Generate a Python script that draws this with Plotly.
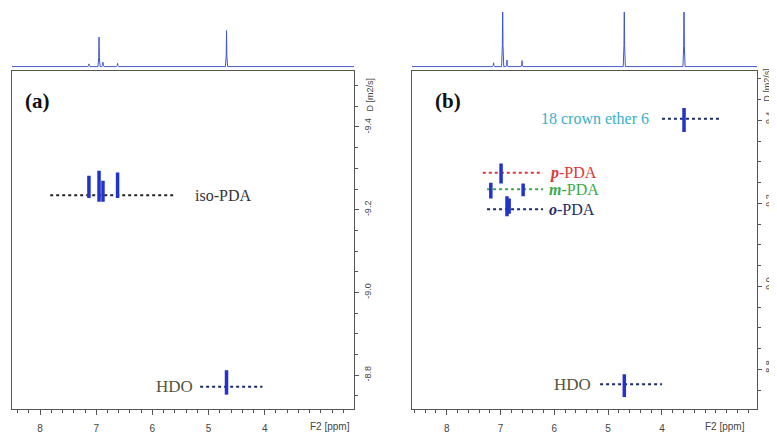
import plotly.graph_objects as go

W, H = 777, 434
OFF = 8  # page body margin of the browser
FW, FH = W - OFF, H - OFF

# ---------------- data ----------------
# panel (a): iso-PDA in D2O
a_iso_ppm = [7.13, 6.95, 6.88, 6.62]
a_iso_d_top = [-9.282, -9.294, -9.270, -9.290]
a_iso_d_bot = [-9.228, -9.219, -9.219, -9.228]
a_iso_line_d = -9.235
a_iso_line_ppm = [7.82, 5.59]

a_hdo_ppm = [4.68]
a_hdo_d_top = [-8.812]
a_hdo_d_bot = [-8.753]
a_hdo_line_d = -8.772
a_hdo_line_ppm = [5.15, 4.04]

a_proj_ppm = [7.13, 6.95, 6.88, 6.62, 4.68]
a_proj_h = [0.05, 0.54, 0.08, 0.06, 0.66]

# panel (b): mixture with 18-crown-6
b_crown_ppm = [3.59]
b_crown_d_top = [-9.430]
b_crown_d_bot = [-9.372]
b_crown_line_d = -9.404
b_crown_line_ppm = [4.00, 2.92]

b_p_ppm = [6.99]
b_p_d_top = [-9.296]
b_p_d_bot = [-9.248]
b_p_line_d = -9.274
b_p_line_ppm = [7.33, 6.21]

b_m_ppm = [7.18, 6.58]
b_m_d_top = [-9.250, -9.248]
b_m_d_bot = [-9.212, -9.217]
b_m_line_d = -9.234
b_m_line_ppm = [7.25, 6.21]

b_o_ppm = [6.88, 6.84]
b_o_d_top = [-9.217, -9.212]
b_o_d_bot = [-9.169, -9.175]
b_o_line_d = -9.186
b_o_line_ppm = [7.25, 6.21]

b_hdo_ppm = [4.70]
b_hdo_d_top = [-8.788]
b_hdo_d_bot = [-8.733]
b_hdo_line_d = -8.764
b_hdo_line_ppm = [5.15, 4.00]

b_proj_ppm = [7.13, 6.96, 6.88, 6.60, 4.70, 3.59]
b_proj_h = [0.07, 1.30, 0.12, 0.11, 1.30, 1.30]

d_ticks = [-9.4, -9.2, -9.0, -8.8]
d_tick_text = ["-9.4", "-9.2", "-9.0", "-8.8"]
ppm_ticks = [8, 7, 6, 5, 4]

# ---------------- style ----------------
CONT = "#2233cc"
SPEC = "#3f55d0"
FRAME = "#555555"
SERIF = "Liberation Serif"
SANS = "Liberation Sans"


def PX(px):
    return (px - OFF) / FW


def PY(py):
    return 1 - (py - OFF) / FH


def peaks_xy(ppm, top, bot):
    xs, ys = [], []
    for p, t, b in zip(ppm, top, bot):
        xs += [p, p, None]
        ys += [t, b, None]
    return xs, ys


def proj_xy(ppm, h, hi, lo, w=0.02):
    xs, ys = [hi], [0]
    for p, hh in sorted(zip(ppm, h), reverse=True):
        xs += [p + w, p + w * 0.3, p, p - w * 0.3, p - w]
        ys += [0, hh * 0.3, hh, hh * 0.3, 0]
    xs.append(lo)
    ys.append(0)
    return xs, ys


fig = go.Figure()

# ---- panel (a) ----
x, y = proj_xy(a_proj_ppm, a_proj_h, 8.5, 2.41)
fig.add_trace(go.Scatter(x=x, y=y, mode="lines", line=dict(color=SPEC, width=1),
                         xaxis="x2", yaxis="y2", hoverinfo="skip"))
fig.add_trace(go.Scatter(x=a_iso_line_ppm, y=[a_iso_line_d] * 2, mode="lines",
                         line=dict(color="#222222", width=2, dash="dot"), xaxis="x", yaxis="y"))
fig.add_trace(go.Scatter(x=a_hdo_line_ppm, y=[a_hdo_line_d] * 2, mode="lines",
                         line=dict(color="#1a2a6a", width=2, dash="dot"), xaxis="x", yaxis="y"))
x, y = peaks_xy(a_iso_ppm, a_iso_d_top, a_iso_d_bot)
fig.add_trace(go.Scatter(x=x, y=y, mode="lines", line=dict(color=CONT, width=3.5),
                         xaxis="x", yaxis="y"))
x, y = peaks_xy(a_hdo_ppm, a_hdo_d_top, a_hdo_d_bot)
fig.add_trace(go.Scatter(x=x, y=y, mode="lines", line=dict(color=CONT, width=3.5),
                         xaxis="x", yaxis="y"))

# ---- panel (b) ----
x, y = proj_xy(b_proj_ppm, b_proj_h, 8.645, 2.234)
fig.add_trace(go.Scatter(x=x, y=y, mode="lines", line=dict(color=SPEC, width=1),
                         xaxis="x4", yaxis="y4", hoverinfo="skip"))
for lp, ld, col in [(b_crown_line_ppm, b_crown_line_d, "#1a2a6a"),
                    (b_p_line_ppm, b_p_line_d, "#e03535"),
                    (b_m_line_ppm, b_m_line_d, "#3aaa45"),
                    (b_o_line_ppm, b_o_line_d, "#1a2a6a"),
                    (b_hdo_line_ppm, b_hdo_line_d, "#1a2a6a")]:
    fig.add_trace(go.Scatter(x=lp, y=[ld] * 2, mode="lines",
                             line=dict(color=col, width=2, dash="dot"), xaxis="x3", yaxis="y3"))
for pp, tt, bb in [(b_crown_ppm, b_crown_d_top, b_crown_d_bot),
                   (b_p_ppm, b_p_d_top, b_p_d_bot),
                   (b_m_ppm, b_m_d_top, b_m_d_bot),
                   (b_o_ppm, b_o_d_top, b_o_d_bot),
                   (b_hdo_ppm, b_hdo_d_top, b_hdo_d_bot)]:
    x, y = peaks_xy(pp, tt, bb)
    fig.add_trace(go.Scatter(x=x, y=y, mode="lines", line=dict(color=CONT, width=3.5),
                             xaxis="x3", yaxis="y3"))

# ---- axes ----
ytop = PY(71)
ybot = PY(411)
sp_bot = PY(68)
sp_top = PY(12)
axl = [PX(12), PX(354)]
axr = [PX(412), PX(757)]


def main_x(dom, rng, anchor):
    return dict(domain=dom, range=rng, anchor=anchor, showline=True, mirror=True,
                linecolor=FRAME, linewidth=1, ticks="outside", ticklen=5, tickcolor=FRAME,
                tickvals=ppm_ticks, showgrid=False, zeroline=False, ticklabelstandoff=5,
                tickfont=dict(family=SANS, size=10, color="#444444"),
                minor=dict(dtick=0.2, ticklen=3, tickcolor=FRAME, ticks="outside"))


def main_y(anchor, rng, standoff):
    return dict(domain=[ybot, ytop], range=rng, anchor=anchor, side="right",
                showline=True, mirror=True, linecolor=FRAME, linewidth=1,
                ticks="outside", ticklen=4, tickcolor=FRAME, tickvals=d_ticks,
                ticktext=d_tick_text, tickangle=-90, showgrid=False, zeroline=False,
                ticklabelstandoff=standoff,
                tickfont=dict(family=SANS, size=9, color="#444444"),
                minor=dict(dtick=0.05, tick0=-9.4, ticklen=3, tickcolor=FRAME, ticks="outside"))


fig.update_layout(
    width=FW, height=FH, margin=dict(l=0, r=0, t=0, b=0),
    paper_bgcolor="white", plot_bgcolor="white", showlegend=False,
    xaxis=main_x(axl, [8.5, 2.41], "y"),
    yaxis=main_y("x", [-8.718, -9.536], 1),
    xaxis2=dict(domain=axl, range=[8.5, 2.41], visible=False, anchor="y2"),
    yaxis2=dict(domain=[sp_bot, sp_top], range=[-0.02, 1.0], visible=False, anchor="x2"),
    xaxis3=main_x(axr, [8.645, 2.234], "y3"),
    yaxis3=main_y("x3", [-8.704, -9.52], -1),
    xaxis4=dict(domain=axr, range=[8.645, 2.234], visible=False, anchor="y4"),
    yaxis4=dict(domain=[sp_bot, sp_top], range=[-0.02, 1.0], visible=False, anchor="x4"),
)

ann = []
C = dict(xanchor="center", yanchor="middle", showarrow=False, xref="paper", yref="paper")
# panel labels
ann.append(dict(text="<b>(a)</b>", x=PX(37), y=PY(101),
                font=dict(family=SERIF, size=21, color="#111111"), **C))
ann.append(dict(text="<b>(b)</b>", x=PX(448), y=PY(101),
                font=dict(family=SERIF, size=21, color="#111111"), **C))
# compound labels
ann.append(dict(text="iso-PDA", x=5.28, y=a_iso_line_d, xref="x", yref="y", showarrow=False,
                xanchor="left", yanchor="middle",
                font=dict(family=SERIF, size=16, color="#333333")))
ann.append(dict(text="HDO", x=5.25, y=a_hdo_line_d, xref="x", yref="y", showarrow=False,
                xanchor="right", yanchor="middle",
                font=dict(family=SERIF, size=17, color="#55553f")))
ann.append(dict(text="18 crown ether 6", x=4.2, y=b_crown_line_d, xref="x3", yref="y3",
                showarrow=False, xanchor="right", yanchor="middle",
                font=dict(family=SERIF, size=16, color="#3ab0c8")))
for lab, yy, col in [("p", b_p_line_d, "#e03535"), ("m", b_m_line_d, "#3aaa45"),
                     ("o", b_o_line_d, "#1a2a6a")]:
    ann.append(dict(text="<b><i>%s</i></b>-PDA" % lab, x=6.13, y=yy, xref="x3", yref="y3",
                    showarrow=False, xanchor="left", yanchor="middle",
                    font=dict(family=SERIF, size=16, color=col)))
ann.append(dict(text="HDO", x=5.28, y=b_hdo_line_d, xref="x3", yref="y3", showarrow=False,
                xanchor="right", yanchor="middle",
                font=dict(family=SERIF, size=17, color="#55553f")))
# axis titles
for px in [330, 725]:
    ann.append(dict(text="F2 [ppm]", x=PX(px), y=PY(428),
                    font=dict(family=SANS, size=10, color="#444444"), **C))
for px, py in [(370, 95), (767, 85)]:
    ann.append(dict(text="D [m2/s]", x=PX(px), y=PY(py), textangle=-90,
                    font=dict(family=SANS, size=9, color="#444444"), **C))
fig.update_layout(annotations=ann)

fig.write_html("out.html")
